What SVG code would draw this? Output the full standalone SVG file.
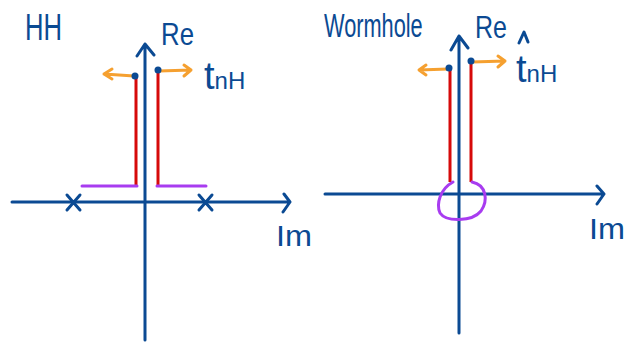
<svg xmlns="http://www.w3.org/2000/svg" width="626" height="342" viewBox="0 0 626 342">
<style>
.ax{stroke:#0b4a93;stroke-width:3;fill:none;stroke-linecap:round;stroke-linejoin:round}
.red{stroke:#d60a0a;stroke-width:3;fill:none}
.pur{stroke:#a83cf0;stroke-width:3;fill:none;stroke-linecap:round}
.org{stroke:#f5a030;stroke-width:3;fill:none;stroke-linecap:round;stroke-linejoin:round}
.dot{fill:#0b4a93}
.t{font-family:"Liberation Sans",sans-serif;fill:#0b4a93}
</style>
<rect width="626" height="342" fill="#fff"/>
<g id="hh-panel">
  <text class="t" x="25" y="40" font-size="36" textLength="37" lengthAdjust="spacingAndGlyphs">HH</text>
  <text class="t" x="161" y="45" font-size="32" textLength="33" lengthAdjust="spacingAndGlyphs">Re</text>
  <text class="t" x="204" y="89" font-size="38">t<tspan font-size="24">nH</tspan></text>
  <text class="t" x="276" y="246" font-size="30" textLength="36" lengthAdjust="spacingAndGlyphs">Im</text>
  <g id="hh-axes">
    <path class="ax" d="M145 340 V44 M137 56 L145 44 L154 55"/>
    <path class="ax" d="M12 202 H289 M284 194 L290 202 L283 212"/>
    <path class="ax" d="M67 195 L80 210 M80 195 L67 210 M199 195 L212 210 M212 195 L199 210"/>
  </g>
  <g id="hh-cuts">
    <path class="red" d="M136 77 V186 M158 71 V186"/>
    <path class="pur" d="M82 186 H137 M157 186 H206"/>
  </g>
  <g id="hh-points">
    <path class="org" d="M134 76 L104 74 M112 69 L104 74 L112 79 M159 71 L191 70 M184 65 L191 70 L184 76"/>
    <circle class="dot" cx="135" cy="76" r="3.5"/>
    <circle class="dot" cx="158" cy="70" r="3.5"/>
  </g>
</g>
<g id="wormhole-panel">
  <text class="t" transform="translate(324,37) scale(0.64,1)" x="0" y="0" font-size="34">Wormhole</text>
  <text class="t" x="475" y="38" font-size="32" textLength="32" lengthAdjust="spacingAndGlyphs">Re</text>
  <path class="ax" d="M519 43 L524 32 L528 42"/>
  <text class="t" x="516" y="82" font-size="38">t<tspan font-size="24">nH</tspan></text>
  <text class="t" x="589" y="239" font-size="30" textLength="36" lengthAdjust="spacingAndGlyphs">Im</text>
  <g id="wh-axes">
    <path class="ax" d="M459 333 V36 M451 50 L459 36 L468 48"/>
    <path class="ax" d="M325 194 H603 M597 186 L604 194 L597 204"/>
  </g>
  <g id="wh-cuts">
    <path class="red" d="M450 69 V182 M471 62 V182"/>
    <path class="pur" d="M453 182 C440 189 436 204 440 213 C446 222 472 222 481 211 C488 201 487 185 472 182"/>
  </g>
  <g id="wh-points">
    <path class="org" d="M448 69 L419 70 M426 65 L419 70 L426 75 M472 62 L505 61 M498 56 L505 61 L498 67"/>
    <circle class="dot" cx="449" cy="68" r="3.5"/>
    <circle class="dot" cx="471" cy="61" r="3.5"/>
  </g>
</g>
</svg>
